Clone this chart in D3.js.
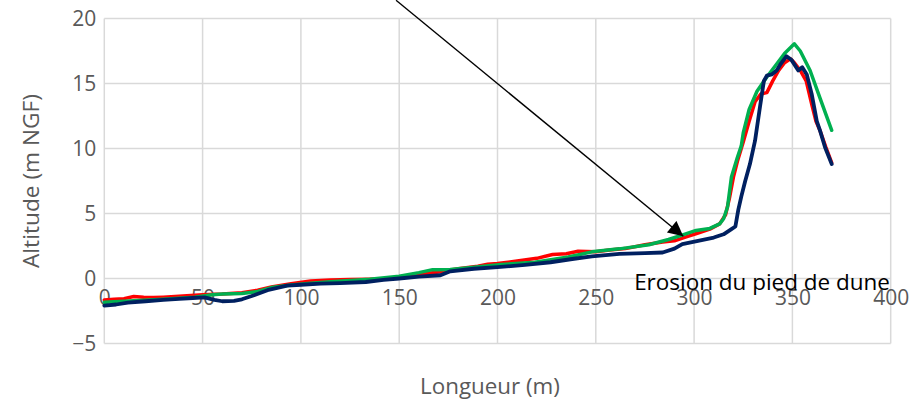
<!DOCTYPE html>
<html>
<head>
<meta charset="utf-8">
<script src="https://cdn.jsdelivr.net/npm/d3@7/dist/d3.min.js"></script>
<style>
  html, body { margin: 0; padding: 0; background: #fff; }
  svg { display: block; }
  text { font-family: "Open Sans", Lato, sans-serif; }
</style>
</head>
<body>
<svg id="chart" width="921" height="400"></svg>
<script>
// ---------- DATA ----------
const xTicks = [0, 50, 100, 150, 200, 250, 300, 350, 400];
const yTicks = [-5, 0, 5, 10, 15, 20];
const xTitle = "Longueur (m)";
const yTitle = "Altitude (m NGF)";

const redX = [0,5,10,15,20,25,30,40,50,60,70,78,85,95,105,115,125,135,142,150,160,170,180,190,195,200,210,220,228,235,241,250,257,265,275,284,290,296,302,308,313,316,318,320,322,325,328,331,334,337,340,343,346,349,351,354,357,360,362,364,367,370];
const redY = [-1.65,-1.6,-1.55,-1.38,-1.45,-1.47,-1.44,-1.35,-1.25,-1.2,-1.1,-0.9,-0.65,-0.4,-0.2,-0.12,-0.08,-0.05,-0.02,0.05,0.3,0.5,0.75,0.95,1.1,1.15,1.35,1.55,1.85,1.9,2.1,2.05,2.2,2.3,2.6,2.8,2.9,3.2,3.5,3.8,4.2,4.9,6.2,7.8,9.0,10.5,12.1,13.6,14.2,14.3,15.2,16.0,16.6,16.9,16.6,16.0,15.2,13.3,12.1,11.4,10.1,8.9];

const greenX = [0,10,20,30,40,46,55,60,70,78,85,95,105,115,125,135,150,160,167,176,188,202,219,236,248,262,277,287,295,301,308,313,315,317,319,322,324,325,328,332,337,342,346,351,354,359,364,370];
const greenY = [-1.82,-1.75,-1.68,-1.6,-1.5,-1.44,-1.25,-1.2,-1.15,-1.0,-0.7,-0.5,-0.36,-0.25,-0.15,-0.05,0.18,0.45,0.68,0.7,0.87,1.08,1.25,1.65,2.05,2.28,2.6,3.0,3.4,3.7,3.85,4.2,4.6,5.5,7.8,9.3,10.2,11.2,13.0,14.4,15.5,16.5,17.3,18.05,17.5,16.0,13.9,11.4];

const navyX = [0,6,12,21,30,38,45,51,56,60,66,70,75,83,93,100,110,120,133,142,150,160,171,176,188,200,214,227,238,248,262,275,284,290,294,302,310,315,319,321,322.5,324,326,328.4,331,333.5,335.5,337,339.5,342,344,347,349.6,353,355,357.3,359.8,362.4,364,366.6,370];
const navyY = [-2.08,-2.0,-1.85,-1.75,-1.65,-1.56,-1.5,-1.45,-1.65,-1.75,-1.72,-1.6,-1.35,-0.9,-0.55,-0.48,-0.4,-0.35,-0.27,-0.1,0.0,0.15,0.25,0.55,0.75,0.87,1.05,1.25,1.5,1.7,1.9,1.95,2.0,2.3,2.65,2.9,3.15,3.4,3.8,4.0,5.3,6.3,7.5,8.8,10.6,13.2,15.2,15.6,15.7,16.0,16.5,17.1,16.8,16.0,16.25,15.7,14.2,12.1,11.4,10.1,8.8];

const annotationText = "Erosion du pied de dune";
const arrowFrom = [148.4, 21.4];
const arrowTo = [294.5, 3.25];
const annotationPos = [269.5, -0.92];

// ---------- CHART ----------
const svg = d3.select("#chart");
const margin = { left: 104.3, right: 921 - 890.7, top: 18.5, bottom: 400 - 343.5 };
const x = d3.scaleLinear().domain([0, 400]).range([margin.left, 921 - margin.right]);
const y = d3.scaleLinear().domain([-5, 20]).range([400 - margin.bottom, margin.top]);

const gridColor = "#d9d9d9";
const textColor = "#595959";

// fit a text element's font size to a target advance width
function fitWidth(sel, target, base) {
  sel.style("font-size", base + "px");
  const w = sel.node().getComputedTextLength();
  if (w > 0) sel.style("font-size", (base * target / w) + "px");
  return sel;
}

// gridlines
svg.append("g").selectAll("line").data(yTicks).join("line")
  .attr("x1", x(0)).attr("x2", x(400))
  .attr("y1", d => y(d)).attr("y2", d => y(d))
  .attr("stroke", gridColor).attr("stroke-width", 1.5);
svg.append("g").selectAll("line").data(xTicks).join("line")
  .attr("y1", y(-5)).attr("y2", y(20))
  .attr("x1", d => x(d)).attr("x2", d => x(d))
  .attr("stroke", gridColor).attr("stroke-width", 1.5);

const tickFont = "21px";

// y axis labels
const yAxis = d3.axisLeft(y).tickValues(yTicks).tickSize(0).tickPadding(8).tickFormat(d3.format("d"));
const gy = svg.append("g").attr("transform", `translate(${x(0)},0)`).call(yAxis);
gy.select(".domain").remove();
gy.selectAll("text").attr("fill", textColor).style("font-size", tickFont)
  .style("font-family", "'Open Sans', sans-serif").attr("x", -8).attr("dy", "0.35em");

// x axis labels (axis crosses at 0)
const xAxis = d3.axisBottom(x).tickValues(xTicks).tickSize(0).tickPadding(0).tickFormat(d3.format("d"));
const gx = svg.append("g").attr("transform", `translate(0,${y(0)})`).call(xAxis);
gx.select(".domain").remove();
gx.selectAll("text").attr("fill", textColor).style("font-size", tickFont)
  .style("font-family", "'Open Sans', sans-serif").attr("y", 26.5).attr("dy", 0);

// series
const line = d3.line().x(d => x(d[0])).y(d => y(d[1]));
const series = [
  { xs: redX, ys: redY, color: "#ff0000", w: 3.5 },
  { xs: greenX, ys: greenY, color: "#00b050", w: 3.5 },
  { xs: navyX, ys: navyY, color: "#002060", w: 3.8 }
];
series.forEach(s => {
  svg.append("path")
    .datum(s.xs.map((v, i) => [v, s.ys[i]]))
    .attr("fill", "none")
    .attr("stroke", s.color)
    .attr("stroke-width", s.w)
    .attr("stroke-linejoin", "round")
    .attr("stroke-linecap", "round")
    .attr("d", line);
});

// arrow annotation
const defs = svg.append("defs");
defs.append("marker")
  .attr("id", "arrowhead")
  .attr("viewBox", "0 0 10 10")
  .attr("refX", 10).attr("refY", 5)
  .attr("markerUnits", "userSpaceOnUse")
  .attr("markerWidth", 17).attr("markerHeight", 15)
  .attr("orient", "auto")
  .append("path").attr("d", "M0,0 L10,5 L0,10 Z").attr("fill", "#000");

svg.append("line")
  .attr("x1", x(arrowFrom[0])).attr("y1", y(arrowFrom[1]))
  .attr("x2", x(arrowTo[0])).attr("y2", y(arrowTo[1]))
  .attr("stroke", "#000").attr("stroke-width", 1.4)
  .attr("marker-end", "url(#arrowhead)");

const ann = svg.append("text")
  .attr("x", x(annotationPos[0])).attr("y", y(annotationPos[1]))
  .attr("fill", "#000")
  .text(annotationText);
fitWidth(ann, 256, 22);

// axis titles
const xt = svg.append("text")
  .attr("x", 490).attr("y", 394)
  .attr("text-anchor", "middle").attr("fill", textColor)
  .text(xTitle);
fitWidth(xt, 140, 21);

const yt = svg.append("text")
  .attr("transform", `translate(39,${(y(-5) + y(20)) / 2}) rotate(-90)`)
  .attr("text-anchor", "middle").attr("fill", textColor)
  .text(yTitle);
fitWidth(yt, 174, 21);
</script>
</body>
</html>
